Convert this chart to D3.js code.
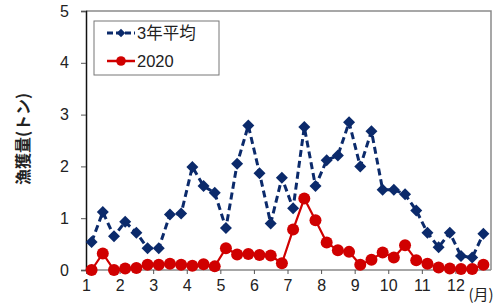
<!DOCTYPE html>
<html>
<head>
<meta charset="utf-8">
<script src="https://cdn.jsdelivr.net/npm/d3@7"></script>
<style>
  body { margin: 0; background: #fff; }
  text { font-family: "Liberation Sans", Arial, sans-serif; fill: #222; }
</style>
</head>
<body>
<svg width="497" height="306"></svg>
<script>
// 旬別 (上・中・下) 36 points, Jan-Dec
const months = ["1", "2", "3", "4", "5", "6", "7", "8", "9", "10", "11", "12"];
const yTicks = [0, 1, 2, 3, 4, 5];
const avg3 = [0.54, 1.12, 0.65, 0.93, 0.72, 0.42, 0.42, 1.07, 1.09, 1.99, 1.62, 1.49,
  0.81, 2.05, 2.79, 1.87, 0.90, 1.78, 1.19, 2.76, 1.62, 2.12, 2.21, 2.85,
  2.00, 2.68, 1.55, 1.55, 1.46, 1.15, 0.72, 0.44, 0.72, 0.27, 0.24, 0.70];
const y2020 = [0.00, 0.32, 0.00, 0.03, 0.04, 0.10, 0.10, 0.12, 0.10, 0.08, 0.11, 0.07,
  0.42, 0.30, 0.31, 0.29, 0.28, 0.13, 0.78, 1.38, 0.96, 0.53, 0.38, 0.35,
  0.10, 0.20, 0.34, 0.24, 0.48, 0.19, 0.12, 0.05, 0.03, 0.02, 0.02, 0.10];
const seriesNames = ["3年平均", "2020"];

const svg = d3.select("svg");
const plotL = 86, plotR = 491, plotT = 11, plotB = 270;

const x = d3.scaleLinear().domain([0, 36]).range([plotL, 489]);
const y = d3.scaleLinear().domain([0, 5]).range([plotB, plotT]);

const blue = "#0b2a6b";
const red = "#d00000";

// plot frame (top / right)
svg.append("path")
  .attr("d", `M${plotL},${plotT}H${plotR}V${plotB}`)
  .attr("fill", "none")
  .attr("stroke", "#8a8a8a")
  .attr("stroke-width", 1.5);

// y axis
const yAxis = svg.append("g")
  .attr("transform", `translate(${plotL},0)`)
  .call(d3.axisLeft(y).tickValues(yTicks).tickSize(5).tickPadding(12).tickFormat(d3.format("d")));
yAxis.select(".domain").attr("stroke", "#111").attr("stroke-width", 1.5);
yAxis.selectAll(".tick line").attr("stroke", "#555");
yAxis.selectAll("text").style("font-size", "16px").attr("fill", "#333");

// x axis
const xAxis = svg.append("g")
  .attr("transform", `translate(0,${plotB})`)
  .call(d3.axisBottom(x).tickValues(d3.range(0, 36, 3)).tickSize(4).tickPadding(6)
    .tickFormat((d, i) => months[i]));
xAxis.select(".domain").attr("d", `M${plotL},0H${plotR}`).attr("stroke", "#8a8a8a").attr("stroke-width", 1.5);
xAxis.selectAll(".tick line").attr("stroke", "#555");
xAxis.selectAll("text").style("font-size", "16px").attr("fill", "#333");

svg.append("text")
  .attr("x", 481).attr("y", 300)
  .attr("text-anchor", "middle")
  .style("font-family", "'Noto Sans CJK JP', sans-serif")
  .style("font-size", "15px")
  .attr("fill", "#333")
  .text("(月)");

// y label
svg.append("text")
  .attr("transform", "translate(22,139) rotate(-90)")
  .attr("text-anchor", "middle")
  .attr("dominant-baseline", "central")
  .style("font-family", "'Noto Sans CJK JP', sans-serif")
  .style("font-size", "16px")
  .style("font-weight", "bold")
  .attr("fill", "#333")
  .text("漁獲量(トン)");

const line = d3.line().x((d, i) => x(i + 0.5)).y(d => y(d));
const diamond = d3.symbol(d3.symbolSquare, 72);
const diamondSmall = d3.symbol(d3.symbolSquare, 36);

// 3年平均
svg.append("path")
  .datum(avg3)
  .attr("d", line)
  .attr("fill", "none")
  .attr("stroke", blue)
  .attr("stroke-width", 3)
  .attr("stroke-dasharray", "7,4");
svg.append("g").selectAll("path")
  .data(avg3)
  .join("path")
  .attr("transform", (d, i) => `translate(${x(i + 0.5)},${y(d)}) rotate(45)`)
  .attr("d", diamond)
  .attr("fill", blue);

// 2020
svg.append("path")
  .datum(y2020)
  .attr("d", line)
  .attr("fill", "none")
  .attr("stroke", red)
  .attr("stroke-width", 2.2);
svg.append("g").selectAll("circle")
  .data(y2020)
  .join("circle")
  .attr("cx", (d, i) => x(i + 0.5))
  .attr("cy", d => y(d))
  .attr("r", 6)
  .attr("fill", red);

// legend
const lg = svg.append("g").attr("transform", "translate(94,21)");
lg.append("rect")
  .attr("width", 125).attr("height", 54)
  .attr("fill", "#fff")
  .attr("stroke", "#777")
  .attr("stroke-width", 1);
seriesNames.forEach((name, k) => {
  const cy = 12 + k * 28;
  lg.append("line")
    .attr("x1", 13).attr("x2", 41).attr("y1", cy).attr("y2", cy)
    .attr("stroke", k === 0 ? blue : red)
    .attr("stroke-width", k === 0 ? 3 : 2.5)
    .attr("stroke-dasharray", k === 0 ? "6,3" : null);
  if (k === 0) {
    lg.append("path")
      .attr("transform", `translate(27,${cy}) rotate(45)`)
      .attr("d", diamondSmall)
      .attr("fill", blue);
  } else {
    lg.append("circle").attr("cx", 27).attr("cy", cy).attr("r", 4.8).attr("fill", red);
  }
  lg.append("text")
    .attr("x", 43).attr("y", cy)
    .attr("dominant-baseline", "central")
    .style("font-family", "'Liberation Sans', 'Noto Sans CJK JP', sans-serif")
    .style("font-size", "16.5px")
    .attr("fill", "#222")
    .text(name);
});
</script>
</body>
</html>
